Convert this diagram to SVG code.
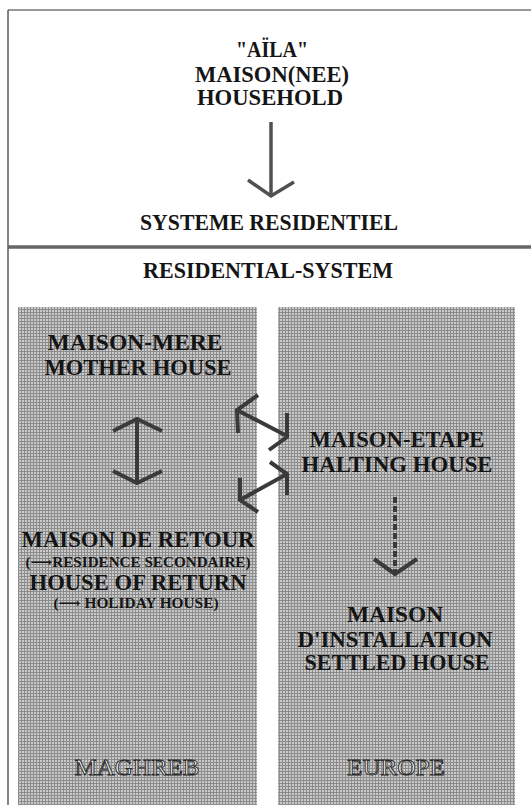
<svg xmlns="http://www.w3.org/2000/svg" width="531" height="805" viewBox="0 0 531 805">
<style>
.t{font-family:"Liberation Serif","DejaVu Serif",serif;font-weight:bold;fill:#151515;text-anchor:middle}
.b{font-size:23px}
.s{font-size:14px}
.o{font-family:"Liberation Serif","DejaVu Serif",serif;font-size:23px;fill:#efefef;stroke:#2a2a2a;stroke-width:0.9;text-anchor:middle}
.ar{fill:none;stroke:#3a3a3a;stroke-width:4;stroke-linecap:butt;stroke-linejoin:miter}
.top{fill:none;stroke:#505050;stroke-width:3.5}
</style>
<defs>
<pattern id="grid" width="3" height="3" patternUnits="userSpaceOnUse">
<rect width="3" height="3" fill="#cacaca"/>
<rect width="3" height="1" fill="#8c8c8c"/>
<rect width="1" height="3" fill="#8c8c8c"/>
</pattern>
</defs>
<rect width="531" height="805" fill="#ffffff"/>
<g id="frame">
<line x1="8" y1="10" x2="531" y2="10" stroke="#333" stroke-width="1.2"/>
<line x1="8" y1="10" x2="8" y2="805" stroke="#333" stroke-width="1.2"/>
<line x1="8" y1="247" x2="531" y2="247" stroke="#666" stroke-width="3.5"/>
</g>
<g id="maghreb-box"><rect x="18" y="307" width="239" height="498" fill="url(#grid)"/></g>
<g id="europe-box"><rect x="278" y="307" width="237" height="498" fill="url(#grid)"/></g>
<g id="aila">
<text class="t b" x="272" y="57" textLength="72" lengthAdjust="spacingAndGlyphs">"AÏLA"</text>
<text class="t b" x="272" y="82" textLength="154" lengthAdjust="spacingAndGlyphs">MAISON(NEE)</text>
<text class="t b" x="270" y="105" textLength="146" lengthAdjust="spacingAndGlyphs">HOUSEHOLD</text>
</g>
<g id="systeme">
<text class="t b" x="269" y="230" textLength="258" lengthAdjust="spacingAndGlyphs">SYSTEME RESIDENTIEL</text>
<text class="t b" x="268" y="278" textLength="250" lengthAdjust="spacingAndGlyphs">RESIDENTIAL-SYSTEM</text>
</g>
<g id="maison-mere">
<text class="t b" x="135" y="350" textLength="175" lengthAdjust="spacingAndGlyphs">MAISON-MERE</text>
<text class="t b" x="138" y="375" textLength="187" lengthAdjust="spacingAndGlyphs">MOTHER HOUSE</text>
</g>
<g id="maison-retour">
<text class="t b" x="138" y="547" textLength="233" lengthAdjust="spacingAndGlyphs">MAISON DE RETOUR</text>
<text class="t s" x="138" y="567" textLength="225" lengthAdjust="spacingAndGlyphs">(⟶RESIDENCE SECONDAIRE)</text>
<text class="t b" x="138" y="590" textLength="217" lengthAdjust="spacingAndGlyphs">HOUSE OF RETURN</text>
<text class="t s" x="136" y="608" textLength="165" lengthAdjust="spacingAndGlyphs">(⟶ HOLIDAY  HOUSE)</text>
</g>
<g id="maison-etape">
<text class="t b" x="397" y="447" textLength="175" lengthAdjust="spacingAndGlyphs">MAISON-ETAPE</text>
<text class="t b" x="397" y="472" textLength="191" lengthAdjust="spacingAndGlyphs">HALTING HOUSE</text>
</g>
<g id="maison-installation">
<text class="t b" x="395" y="622" textLength="96" lengthAdjust="spacingAndGlyphs">MAISON</text>
<text class="t b" x="395" y="647" textLength="195" lengthAdjust="spacingAndGlyphs">D'INSTALLATION</text>
<text class="t b" x="397" y="670" textLength="185" lengthAdjust="spacingAndGlyphs">SETTLED HOUSE</text>
</g>
<g id="maghreb-label"><text class="o" x="137" y="775" textLength="125" lengthAdjust="spacingAndGlyphs">MAGHREB</text></g>
<g id="europe-label"><text class="o" x="396" y="775" textLength="98" lengthAdjust="spacingAndGlyphs">EUROPE</text></g>
<g id="connectors">
<path class="top" d="M271,122 V196"/>
<path class="top" d="M248,180 L271,196 L294,182"/>
<path class="ar" d="M137,420 V482"/>
<path class="ar" d="M113,431 L137,419 L162,431"/>
<path class="ar" d="M113,471 L137,483 L162,471"/>
<path class="ar" d="M237,410 L287,436"/>
<path class="ar" d="M258,395 L237,410 L238,433"/>
<path class="ar" d="M287,413 L287,437 L269,450"/>
<path class="ar" d="M287,474 L240,500"/>
<path class="ar" d="M270,462 L287,474 L287,495"/>
<path class="ar" d="M240,478 L240,500 L258,512"/>
<path class="ar" d="M395,497 V573" stroke-dasharray="6 3"/>
<path class="ar" d="M374,559 L395,574 L417,559"/>
</g>
</svg>
